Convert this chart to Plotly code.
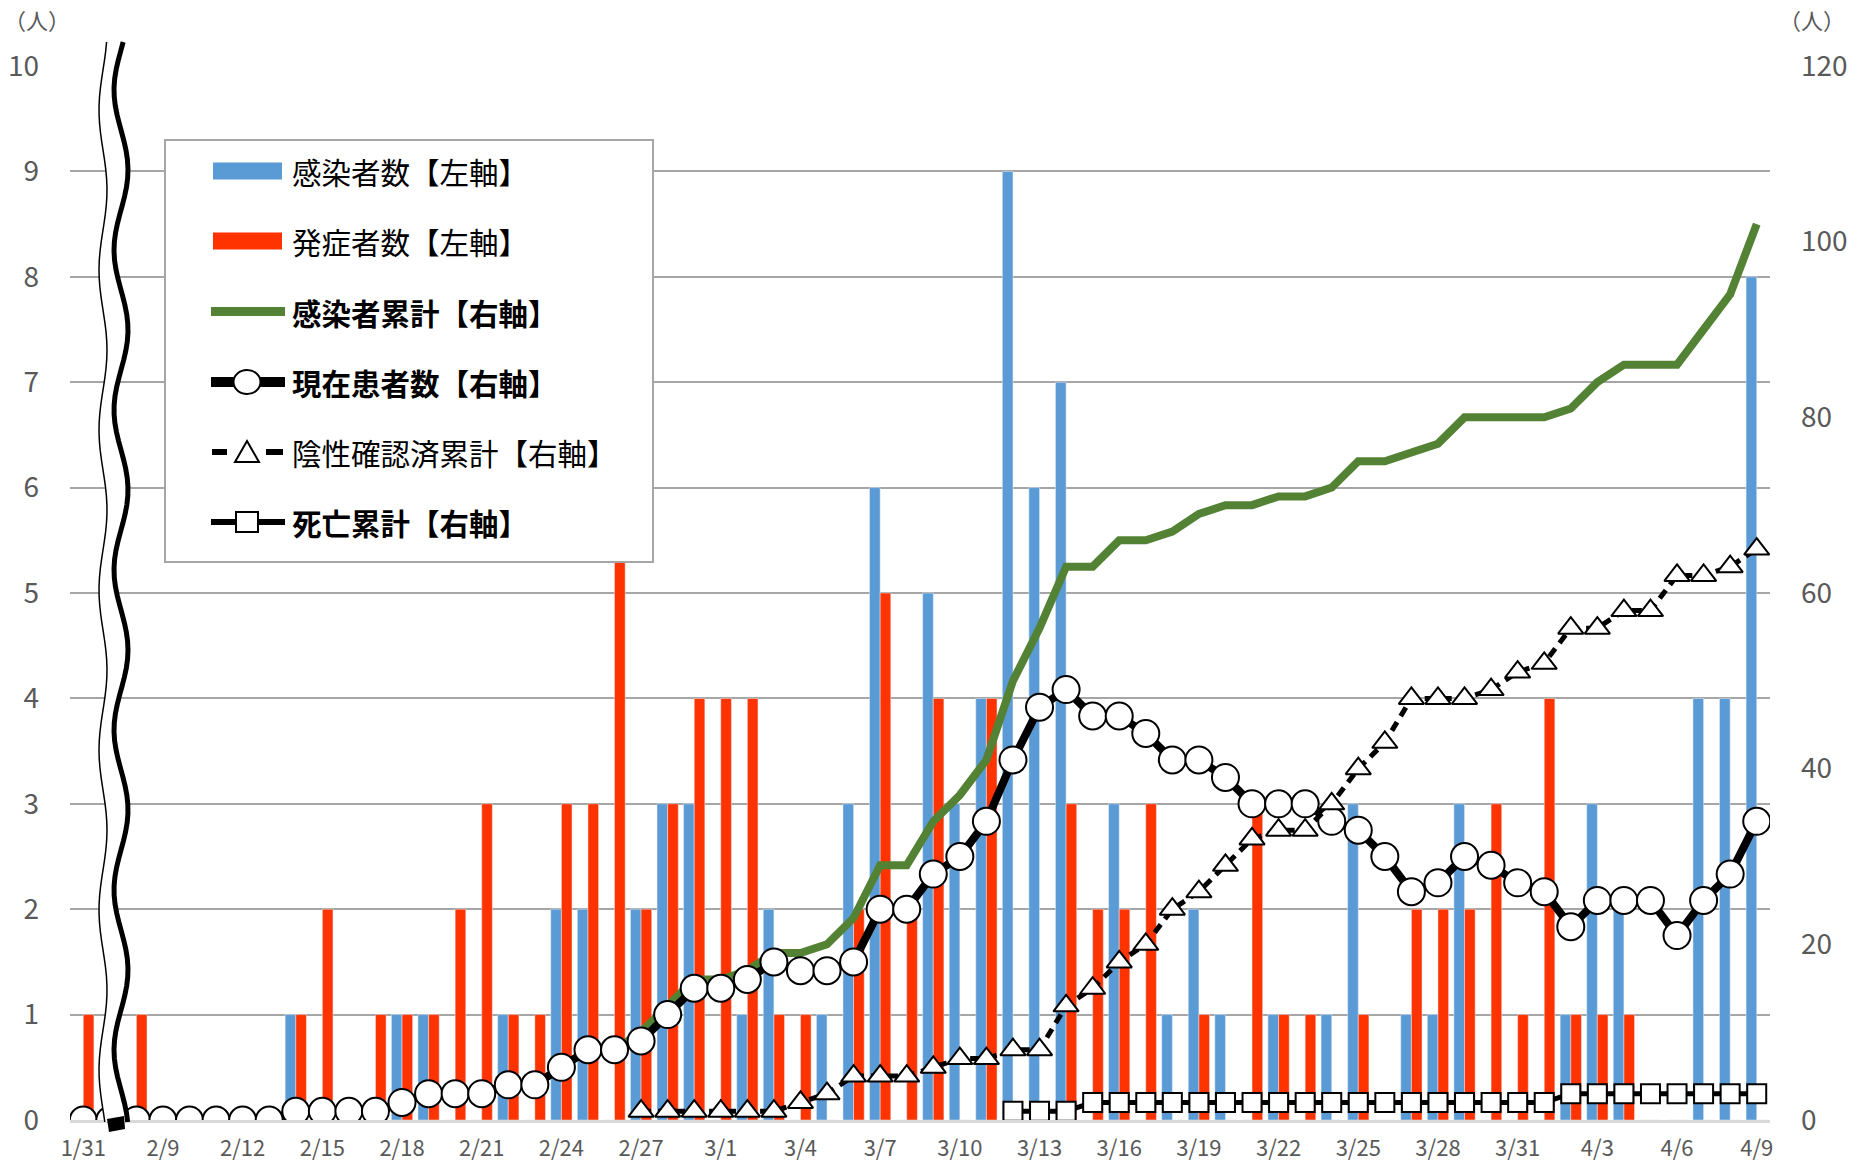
import numpy as np
import plotly.graph_objects as go

# ---------------- data ----------------
categories = [
    "1/31", " ",
    "2/8", "2/9", "2/10", "2/11", "2/12", "2/13", "2/14", "2/15", "2/16", "2/17",
    "2/18", "2/19", "2/20", "2/21", "2/22", "2/23", "2/24", "2/25", "2/26", "2/27",
    "2/28", "2/29",
    "3/1", "3/2", "3/3", "3/4", "3/5", "3/6", "3/7", "3/8", "3/9", "3/10", "3/11",
    "3/12", "3/13", "3/14", "3/15", "3/16", "3/17", "3/18", "3/19", "3/20", "3/21",
    "3/22", "3/23", "3/24", "3/25", "3/26", "3/27", "3/28", "3/29", "3/30", "3/31",
    "4/1", "4/2", "4/3", "4/4", "4/5", "4/6", "4/7", "4/8", "4/9",
]
tick_labels = categories[::3]

# 感染者数 (left axis)
infected = [0, 0,
            0, 0, 0, 0, 0, 0, 1, 0, 0, 0, 1, 1, 0, 0, 1, 0, 2, 2, 0, 2, 3, 3,
            0, 1, 2, 0, 1, 3, 6, 0, 5, 3, 4, 9, 6, 7, 0, 3, 0, 1, 2, 1, 0, 1, 0, 1, 3, 0,
            1, 1, 3, 0, 0,
            0, 1, 3, 2, 0, 0, 4, 4, 8]
# 発症者数 (left axis)
onset = [1, 0,
         1, 0, 0, 0, 0, 0, 1, 2, 0, 1, 1, 1, 2, 3, 1, 1, 3, 3, 6, 2, 3, 4,
         4, 4, 1, 1, 0, 2, 5, 2, 4, 0, 4, 0, 0, 3, 2, 2, 3, 0, 1, 0, 3, 1, 1, 0, 1, 0,
         2, 2, 2, 3, 1,
         4, 1, 1, 1, 0, 0, 0, 0, 0]
# 感染者累計 (right axis)
cum_infected = [0, 0,
                0, 0, 0, 0, 0, 0, 1, 1, 1, 1, 2, 3, 3, 3, 4, 4, 6, 8, 8, 10, 13, 16,
                16, 17, 19, 19, 20, 23, 29, 29, 34, 37, 41, 50, 56, 63, 63, 66, 66, 67,
                69, 70, 70, 71, 71, 72, 75, 75, 76, 77, 80, 80, 80,
                80, 81, 84, 86, 86, 86, 90, 94, 102]
# 現在患者数 (right axis)
current = [0, 0,
           0, 0, 0, 0, 0, 0, 1, 1, 1, 1, 2, 3, 3, 3, 4, 4, 6, 8, 8, 9, 12, 15,
           15, 16, 18, 17, 17, 18, 24, 24, 28, 30, 34, 41, 47, 49, 46, 46, 44, 41,
           41, 39, 36, 36, 36, 34, 33, 30, 26, 27, 30, 29, 27,
           26, 22, 25, 25, 25, 21, 25, 28, 34]
# 陰性確認済累計 (right axis)
negative = [None, None,
            None, None, None, None, None, None, None, None, None, None, None, None,
            None, None, None, None, None, None, None, 1, 1, 1,
            1, 1, 1, 2, 3, 5, 5, 5, 6, 7, 7, 8, 8, 13, 15, 18, 20, 24, 26, 29, 32,
            33, 33, 36, 40, 43, 48, 48, 48, 49, 51,
            52, 56, 56, 58, 58, 62, 62, 63, 65]
# 死亡累計 (right axis)
deaths = [None, None,
          None, None, None, None, None, None, None, None, None, None, None, None,
          None, None, None, None, None, None, None, None, None, None,
          None, None, None, None, None, None, None, None, None, None, None,
          1, 1, 1, 2, 2, 2, 2, 2, 2, 2, 2, 2, 2, 2, 2, 2, 2, 2, 2, 2,
          2, 3, 3, 3, 3, 3, 3, 3, 3]

names = ["感染者数【左軸】", "発症者数【左軸】", "感染者累計【右軸】",
         "現在患者数【右軸】", "陰性確認済累計【右軸】", "死亡累計【右軸】"]
name_bold = [False, False, True, True, False, True]

# ---------------- figure geometry ----------------
W, H = 1865, 1167
L, R, T, B = 70, 95, 66, 47
PW, PH = W - L - R, H - T - B


def px(x):
    return (x - L) / PW


def py(y):
    return (H - B - y) / PH


FONT = "Noto Sans CJK JP"
GRAY = "#595959"
BLUE, RED, GREEN = "#5B9BD5", "#FF3300", "#548235"

fig = go.Figure()
fig.add_trace(go.Bar(x=categories, y=infected, name=names[0], marker_color=BLUE, yaxis="y"))
fig.add_trace(go.Bar(x=categories, y=onset, name=names[1], marker_color=RED, yaxis="y"))
fig.add_trace(go.Scatter(x=categories, y=cum_infected, name=names[2], mode="lines",
                         line=dict(color=GREEN, width=8), yaxis="y2"))
fig.add_trace(go.Scatter(x=categories, y=current, name=names[3], mode="lines+markers",
                         line=dict(color="black", width=8),
                         marker=dict(symbol="circle", size=27, color="white",
                                     line=dict(color="black", width=2)),
                         yaxis="y2"))
fig.add_trace(go.Scatter(x=categories, y=negative, name=names[4], mode="lines+markers",
                         line=dict(color="black", width=5, dash="10px,7px"),
                         marker=dict(symbol="triangle-up", size=22, color="white",
                                     line=dict(color="black", width=2)),
                         yaxis="y2"))
fig.add_trace(go.Scatter(x=categories, y=deaths, name=names[5], mode="lines+markers",
                         line=dict(color="black", width=5),
                         marker=dict(symbol="square", size=19, color="white",
                                     line=dict(color="black", width=2)),
                         yaxis="y2"))

# ---------------- decorations: legend box, legend keys & axis break ----------------
shapes = []
annotations = []
shapes.append(dict(type="rect", xref="paper", yref="paper",
                   x0=px(165), x1=px(653), y0=py(562), y1=py(140),
                   fillcolor="white", line=dict(color="#A6A6A6", width=2), layer="above"))

rows = [171, 241, 311.5, 382, 452, 522]
KX0, KX1, KC = 211, 285, 247


def seg(x0, x1, y, color, width, dash="solid"):
    return dict(type="line", xref="paper", yref="paper", x0=px(x0), x1=px(x1),
                y0=py(y), y1=py(y), line=dict(color=color, width=width, dash=dash),
                layer="above")


# bar keys
for r, c in zip(rows[:2], [BLUE, RED]):
    shapes.append(dict(type="rect", xref="paper", yref="paper", x0=px(213), x1=px(282),
                       y0=py(r + 8.5), y1=py(r - 8.5), fillcolor=c, line=dict(width=0),
                       layer="above"))
# green line key
shapes.append(seg(KX0, KX1, rows[2], GREEN, 9))
# circle key
shapes.append(seg(KX0, KX1, rows[3], "black", 10))
shapes.append(dict(type="circle", xref="paper", yref="paper", x0=px(KC - 13.5), x1=px(KC + 13.5),
                   y0=py(rows[3] + 12), y1=py(rows[3] - 12), fillcolor="white",
                   line=dict(color="black", width=2), layer="above"))
# triangle key
shapes.append(seg(212, 227, rows[4], "black", 6))
shapes.append(seg(266, 283, rows[4], "black", 6))
ty = rows[4]
shapes.append(dict(type="path", xref="paper", yref="paper",
                   path=f"M {px(KC - 12)},{py(ty + 10)} L {px(KC + 12)},{py(ty + 10)} L {px(KC)},{py(ty - 11)} Z",
                   fillcolor="white", line=dict(color="black", width=2), layer="above"))
# square key
shapes.append(seg(KX0, KX1, rows[5], "black", 6))
shapes.append(dict(type="rect", xref="paper", yref="paper", x0=px(KC - 11), x1=px(KC + 11),
                   y0=py(rows[5] + 10), y1=py(rows[5] - 10), fillcolor="white",
                   line=dict(color="black", width=2), layer="above"))

for r, n, b in zip(rows, names, name_bold):
    annotations.append(dict(text=f"<b>{n}</b>" if b else n, xref="paper", yref="paper",
                            x=px(290), y=py(r), xanchor="left", yanchor="middle",
                            showarrow=False,
                            font=dict(size=29.5, color="black", family=FONT)))

# axis break symbol
ys = np.linspace(42, 1122, 120)
xr = 121 + 7 * np.sin(2 * np.pi * (ys - 130) / 160)
xl = 103 + 4 * np.sin(2 * np.pi * (ys - 150) / 160)


def path_from(xs, yy, close=False):
    pts = " L ".join(f"{px(a):.5f},{py(b):.5f}" for a, b in zip(xs, yy))
    return "M " + pts + (" Z" if close else "")


band = path_from(np.concatenate([xl, xr[::-1]]), np.concatenate([ys, ys[::-1]]), True)
shapes.append(dict(type="path", xref="paper", yref="paper", path=band,
                   fillcolor="white", line=dict(width=0), layer="above"))
shapes.append(dict(type="path", xref="paper", yref="paper", path=path_from(xl, ys),
                   line=dict(color="black", width=1.5), layer="above"))
shapes.append(dict(type="path", xref="paper", yref="paper", path=path_from(xr, ys),
                   line=dict(color="black", width=5), layer="above"))
shapes.append(dict(type="path", xref="paper", yref="paper",
                   path=f"M {px(107)},{py(1119)} L {px(124)},{py(1116)} L {px(125)},{py(1129)} L {px(109)},{py(1132)} Z",
                   fillcolor="black", line=dict(width=0), layer="above"))

annotations += [
    dict(text="（人）", xref="paper", yref="paper", x=px(37), y=py(19),
         xanchor="center", yanchor="middle", showarrow=False,
         font=dict(size=22, color=GRAY, family=FONT)),
    dict(text="（人）", xref="paper", yref="paper", x=px(1812), y=py(19),
         xanchor="center", yanchor="middle", showarrow=False,
         font=dict(size=22, color=GRAY, family=FONT)),
]

fig.update_layout(
    width=W, height=H,
    margin=dict(l=L, r=R, t=T, b=B, autoexpand=False),
    plot_bgcolor="white", paper_bgcolor="white",
    font=dict(family=FONT, color=GRAY),
    barmode="group", bargap=0.2, bargroupgap=0,
    shapes=shapes, annotations=annotations,
    showlegend=False,
    xaxis=dict(type="category", categoryorder="array", categoryarray=categories,
               range=[-0.5, len(categories) - 0.5], automargin=False,
               tickmode="array", tickvals=tick_labels, ticktext=tick_labels,
               tickfont=dict(size=22, color=GRAY, family=FONT),
               showgrid=False, showline=True, linecolor="#D9D9D9", linewidth=3,
               ticks="", ticklabelstandoff=7, zeroline=False),
    yaxis=dict(range=[0, 10], dtick=1, showgrid=True, gridcolor="#A6A6A6", gridwidth=2,
               zeroline=False, showline=False, ticks="", automargin=False,
               tickfont=dict(size=28, color=GRAY, family=FONT), ticklabelstandoff=30),
    yaxis2=dict(range=[0, 120], dtick=20, overlaying="y", side="right", showgrid=False,
                zeroline=False, showline=False, ticks="", automargin=False,
                tickfont=dict(size=28, color=GRAY, family=FONT), ticklabelstandoff=30),
)

fig.write_html("out.html", config={"displayModeBar": False},
               post_script="document.body.style.margin='0';document.body.style.overflow='hidden';")
